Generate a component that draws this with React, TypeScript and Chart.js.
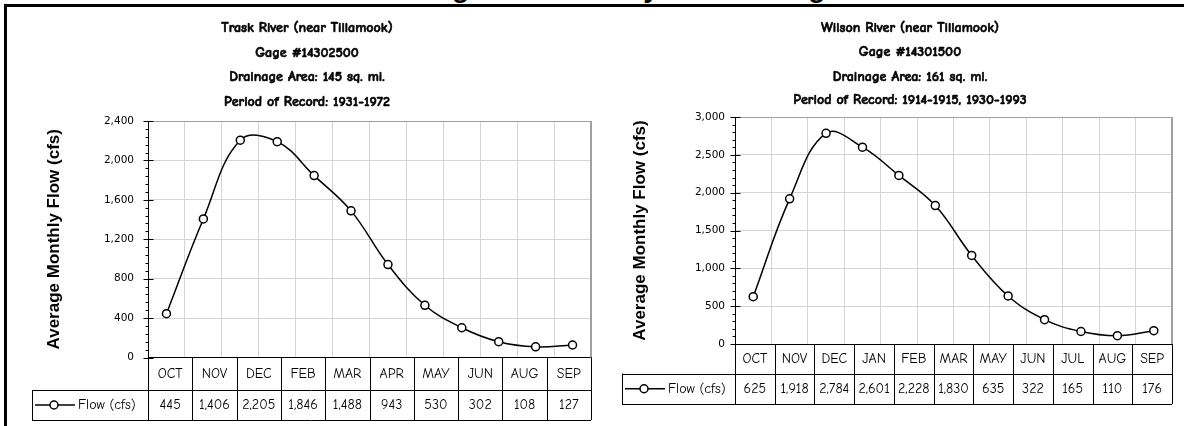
import React, { useEffect, useRef } from "react";
import { Chart, registerables } from "chart.js";

Chart.register(...registerables);

// ---------------- data ----------------
const months = ["OCT", "NOV", "DEC", "JAN", "FEB", "MAR", "APR", "MAY", "JUN", "JUL", "AUG", "SEP"];
const traskFlow = [445, 1406, 2205, 2190, 1846, 1488, 943, 530, 302, 160, 108, 127];
const wilsonFlow = [625, 1918, 2784, 2601, 2228, 1830, 1170, 635, 322, 165, 110, 176];

const traskTableMonths = ["OCT", "NOV", "DEC", "FEB", "MAR", "APR", "MAY", "JUN", "AUG", "SEP"];
const traskTableValues = [445, 1406, 2205, 1846, 1488, 943, 530, 302, 108, 127];
const wilsonTableMonths = ["OCT", "NOV", "DEC", "JAN", "FEB", "MAR", "MAY", "JUN", "JUL", "AUG", "SEP"];
const wilsonTableValues = [625, 1918, 2784, 2601, 2228, 1830, 635, 322, 165, 110, 176];

const traskHeading = [
  "Trask River (near Tillamook)",
  "Gage #14302500",
  "Drainage Area: 145 sq. mi.",
  "Period of Record: 1931-1972",
];
const wilsonHeading = [
  "Wilson River (near Tillamook)",
  "Gage #14301500",
  "Drainage Area: 161 sq. mi.",
  "Period of Record: 1914-1915, 1930-1993",
];

const traskYMax = 2400;
const traskYMajor = 400;
const traskYMinor = 80;
const wilsonYMax = 3000;
const wilsonYMajor = 500;
const wilsonYMinor = 100;

const yAxisTitle = "Average Monthly Flow (cfs)";
const seriesName = "Flow (cfs)";
const figureTitle = "Figure 2. Monthly Flow at Gages";

// ---------------- layout / style ----------------
const comic = '"Comic Sans MS", "Comic Neue", "DejaVu Sans", sans-serif';
const tickFont = '"DejaVu Sans", Verdana, Tahoma, sans-serif';
const arial = '"Liberation Sans", Arial, sans-serif';

type Panel = {
  x: number;
  width: number;
  padding: { left: number; right: number; top: number; bottom: number };
  yAxisWidth: number;
  yTitlePad: number;
  tickPad: number;
  headingX: number;
  headingY: number[];
  headerBottom: number;
  rowBottom: number;
  legendLeft: number;
};

const leftPanel: Panel = {
  x: 0,
  width: 600,
  padding: { left: 30, right: 9, top: 121, bottom: 68.5 },
  yAxisWidth: 118,
  yTitlePad: 14,
  tickPad: 14,
  headingX: 307,
  headingY: [28, 53, 77, 102],
  headerBottom: 390,
  rowBottom: 420,
  legendLeft: 32,
};

const rightPanel: Panel = {
  x: 600,
  width: 584,
  padding: { left: 20, right: 12, top: 117, bottom: 82 },
  yAxisWidth: 115,
  yTitlePad: 10,
  tickPad: 10,
  headingX: 310,
  headingY: [28, 52, 77, 100],
  headerBottom: 373.5,
  rowBottom: 404,
  legendLeft: 22,
};

const fmt = (v: number) => v.toLocaleString("en-US");

function makePlugins(panel: Panel, heading: string[], tableMonths: string[], tableValues: number[], yMax: number, yMajor: number, yMinor: number) {
  const headingPlugin = {
    id: "heading",
    afterDraw(chart: any) {
      const ctx = chart.ctx;
      ctx.save();
      ctx.fillStyle = "#000";
      ctx.strokeStyle = "#000";
      ctx.lineWidth = 0.6;
      ctx.font = `bold 14px ${comic}`;
      ctx.textAlign = "center";
      ctx.textBaseline = "middle";
      heading.forEach((line, i) => {
        ctx.fillText(line, panel.headingX, panel.headingY[i]);
        ctx.strokeText(line, panel.headingX, panel.headingY[i]);
      });
      ctx.restore();
    },
  };

  const ticksPlugin = {
    id: "yTicks",
    afterDraw(chart: any) {
      const ctx = chart.ctx;
      const y = chart.scales.y;
      const { left, right, top, bottom } = chart.chartArea;
      ctx.save();
      ctx.strokeStyle = "#a0a0a0";
      ctx.lineWidth = 1;
      ctx.beginPath();
      ctx.moveTo(left, Math.round(top) + 0.5);
      ctx.lineTo(right, Math.round(top) + 0.5);
      ctx.stroke();
      ctx.lineWidth = 2;
      ctx.beginPath();
      ctx.moveTo(Math.round(right), top);
      ctx.lineTo(Math.round(right), bottom);
      ctx.stroke();
      ctx.strokeStyle = "#000";
      ctx.lineWidth = 1;
      const ax = Math.round(left) + 0.5;
      for (let v = 0; v <= yMax + 1e-6; v += yMinor) {
        const py = Math.round(y.getPixelForValue(v)) + 0.5;
        const major = Math.abs(v / yMajor - Math.round(v / yMajor)) < 1e-6;
        ctx.beginPath();
        if (major) {
          ctx.moveTo(ax - 5, py);
          ctx.lineTo(ax + 5, py);
        } else {
          ctx.moveTo(ax - 3, py);
          ctx.lineTo(ax, py);
        }
        ctx.stroke();
      }
      ctx.restore();
    },
  };

  const tablePlugin = {
    id: "flowTable",
    afterDraw(chart: any) {
      const ctx = chart.ctx;
      const { left, right, bottom } = chart.chartArea;
      const n = tableMonths.length;
      const w = (right - left) / n;
      const top = bottom;
      const hb = panel.headerBottom;
      const rb = panel.rowBottom;
      const ll = panel.legendLeft;
      const px = (v: number) => Math.round(v) + 0.5;
      ctx.save();
      ctx.strokeStyle = "#000";
      ctx.lineWidth = 1;
      ctx.beginPath();
      for (let i = 0; i <= n; i++) {
        const x = px(left + i * w);
        ctx.moveTo(x, top);
        ctx.lineTo(x, rb);
      }
      ctx.moveTo(px(ll), hb);
      ctx.lineTo(px(ll), rb);
      ctx.moveTo(ll, px(hb));
      ctx.lineTo(right, px(hb));
      ctx.moveTo(ll, px(rb));
      ctx.lineTo(right, px(rb));
      ctx.stroke();

      ctx.fillStyle = "#000";
      ctx.font = `14px ${comic}`;
      ctx.textAlign = "center";
      ctx.textBaseline = "middle";
      const hy = (top + hb) / 2;
      const ry = (hb + rb) / 2;
      for (let i = 0; i < n; i++) {
        const cx = left + (i + 0.5) * w;
        ctx.fillText(tableMonths[i], cx, hy);
        ctx.fillText(fmt(tableValues[i]), cx, ry);
      }
      ctx.lineWidth = 1.5;
      ctx.beginPath();
      ctx.moveTo(ll + 3, ry);
      ctx.lineTo(ll + 43, ry);
      ctx.stroke();
      ctx.beginPath();
      ctx.arc(ll + 22, ry, 4, 0, Math.PI * 2);
      ctx.fillStyle = "#fff";
      ctx.fill();
      ctx.stroke();
      ctx.fillStyle = "#000";
      ctx.textAlign = "left";
      ctx.fillText(seriesName, ll + 46, ry);
      ctx.restore();
    },
  };
  return [ticksPlugin, headingPlugin, tablePlugin];
}

type FlowProps = {
  panel: Panel;
  flow: number[];
  heading: string[];
  tableMonths: string[];
  tableValues: number[];
  yMax: number;
  yMajor: number;
  yMinor: number;
};

function FlowChart(props: FlowProps) {
  const ref = useRef<HTMLCanvasElement | null>(null);
  useEffect(() => {
    const { panel, flow, heading, tableMonths, tableValues, yMax, yMajor, yMinor } = props;
    if (!ref.current) return;
    const chart = new Chart(ref.current, {
      type: "line",
      data: {
        labels: months,
        datasets: [
          {
            label: seriesName,
            data: flow,
            borderColor: "#000",
            borderWidth: 1.5,
            tension: 0.4,
            pointRadius: 4,
            pointBorderWidth: 1.5,
            pointBackgroundColor: "#fff",
            pointBorderColor: "#000",
            fill: false,
          },
        ],
      },
      options: {
        animation: false,
        responsive: false,
        layout: { padding: panel.padding },
        plugins: {
          legend: { display: false },
          tooltip: { enabled: false },
          title: { display: false },
        },
        scales: {
          x: {
            type: "category",
            offset: true,
            grid: { offset: true, color: "#d4d4d4", drawTicks: false },
            border: { color: "#000", width: 1 },
            ticks: { display: false },
            afterFit: (s: any) => {
              s.height = 0;
            },
          },
          y: {
            min: 0,
            max: yMax,
            ticks: {
              stepSize: yMajor,
              padding: panel.tickPad,
              color: "#000",
              font: { family: tickFont, size: 10.5 },
              callback: (v: any) => fmt(Number(v)),
            },
            grid: { color: "#d4d4d4", drawTicks: false },
            border: { color: "#000", width: 1 },
            title: {
              display: true,
              text: yAxisTitle,
              color: "#000",
              font: { family: arial, size: 17, weight: "bold" },
              padding: { top: panel.yTitlePad, bottom: 0 },
            },
            afterFit: (s: any) => {
              s.width = panel.yAxisWidth;
            },
          },
        },
      } as any,
      plugins: makePlugins(panel, heading, tableMonths, tableValues, yMax, yMajor, yMinor) as any,
    });
    return () => chart.destroy();
  }, []);
  const p = props.panel;
  return (
    <canvas
      ref={ref}
      width={p.width}
      height={426}
      style={{ position: "absolute", left: p.x, top: 0, width: p.width, height: 426 }}
    />
  );
}

export default function App() {
  return (
    <div
      style={{
        position: "absolute",
        left: 0,
        top: 0,
        width: 1184,
        height: 426,
        overflow: "hidden",
        background: "#fff",
      }}
    >
      <div
        style={{
          position: "absolute",
          left: 427,
          top: -26.2,
          font: `bold 28px ${arial}`,
          lineHeight: "28px",
          whiteSpace: "nowrap",
          color: "#000",
        }}
      >
        {figureTitle}
      </div>
      <div style={{ position: "absolute", left: 4, top: 4, width: 1180, height: 2.5, background: "#000" }} />
      <div style={{ position: "absolute", left: 4, top: 4, width: 3, height: 422, background: "#000" }} />
      <FlowChart
        panel={leftPanel}
        flow={traskFlow}
        heading={traskHeading}
        tableMonths={traskTableMonths}
        tableValues={traskTableValues}
        yMax={traskYMax}
        yMajor={traskYMajor}
        yMinor={traskYMinor}
      />
      <FlowChart
        panel={rightPanel}
        flow={wilsonFlow}
        heading={wilsonHeading}
        tableMonths={wilsonTableMonths}
        tableValues={wilsonTableValues}
        yMax={wilsonYMax}
        yMajor={wilsonYMajor}
        yMinor={wilsonYMinor}
      />
    </div>
  );
}
